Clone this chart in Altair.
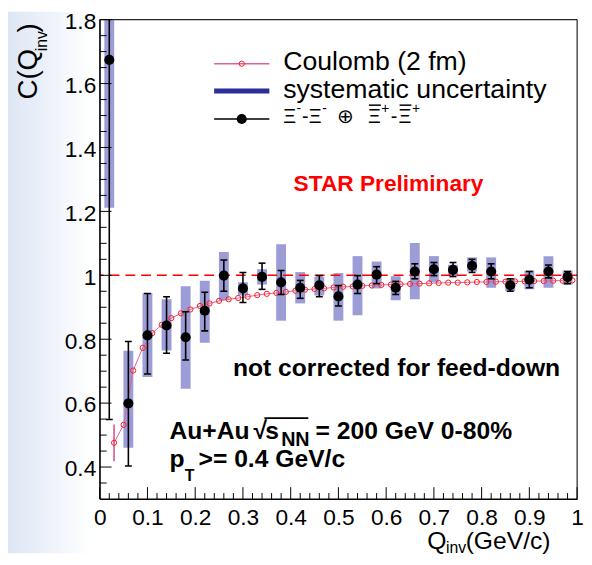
import altair as alt
import pandas as pd

FONT = "Liberation Sans"

# ---- measured correlation function (bin centres, values, errors) ----
q = [0.02, 0.06, 0.10, 0.14, 0.18, 0.22, 0.26, 0.30, 0.34, 0.38, 0.42, 0.46, 0.50,
     0.54, 0.58, 0.62, 0.66, 0.70, 0.74, 0.78, 0.82, 0.86, 0.90, 0.94, 0.98]
c_val = [1.674, 0.599, 0.812, 0.843, 0.806, 0.889, 0.999, 0.959, 0.995, 0.978, 0.961, 0.969, 0.934,
         0.971, 1.002, 0.961, 1.012, 1.019, 1.017, 1.030, 1.012, 0.969, 0.986, 1.012, 0.995]
stat_lo = [0.549, 0.403, 0.691, 0.756, 0.735, 0.826, 0.950, 0.915, 0.956, 0.940, 0.928, 0.933, 0.904,
           0.943, 0.974, 0.940, 0.989, 0.999, 0.996, 1.009, 0.989, 0.950, 0.961, 0.992, 0.974]
stat_hi = [2.800, 0.793, 0.943, 0.933, 0.886, 0.947, 1.048, 1.009, 1.038, 1.015, 0.984, 0.999, 0.968,
           0.999, 1.027, 0.981, 1.036, 1.040, 1.040, 1.050, 1.036, 0.989, 1.012, 1.032, 1.012]
sys_lo = [1.211, 0.460, 0.682, 0.765, 0.645, 0.789, 0.922, 0.937, 0.971, 0.858, 0.912, 0.937, 0.858,
          0.875, 0.959, 0.922, 0.925, 0.978, 0.997, 1.012, 0.961, 0.950, 0.956, 0.961, 0.971]
sys_hi = [2.140, 0.764, 0.945, 0.925, 0.966, 0.983, 1.073, 0.978, 1.019, 1.097, 1.010, 0.995, 1.007,
          1.060, 1.043, 0.997, 1.101, 1.060, 1.033, 1.056, 1.056, 0.990, 1.015, 1.060, 1.015]

# ---- Coulomb (2 fm) curve ----
coul_q = [0.03, 0.05, 0.07, 0.09, 0.11, 0.13, 0.15, 0.17, 0.19, 0.21, 0.23, 0.25, 0.27,
          0.29, 0.31, 0.33, 0.35, 0.37, 0.39, 0.41, 0.43, 0.45, 0.47, 0.49, 0.51, 0.53,
          0.55, 0.57, 0.59, 0.61, 0.63, 0.65, 0.67, 0.69, 0.71, 0.73, 0.75, 0.77, 0.79,
          0.81, 0.83, 0.85, 0.87, 0.89, 0.91, 0.93, 0.95, 0.97, 0.99]
coul_c = [0.476, 0.532, 0.702, 0.773, 0.819, 0.845, 0.866, 0.881, 0.893, 0.904, 0.912, 0.920, 0.925,
          0.929, 0.933, 0.938, 0.942, 0.945, 0.948, 0.952, 0.955, 0.957, 0.959, 0.962, 0.964, 0.965,
          0.967, 0.968, 0.970, 0.971, 0.972, 0.973, 0.974, 0.975, 0.976, 0.977, 0.977, 0.978, 0.979,
          0.979, 0.980, 0.980, 0.981, 0.981, 0.982, 0.982, 0.983, 0.983, 0.984]
coul_err_q = [0.03]
coul_err_lo = [0.418]
coul_err_hi = [0.533]

# ---- axis ticks ----
x_major = [0, 0.1, 0.2, 0.3, 0.4, 0.5, 0.6, 0.7, 0.8, 0.9, 1.0]
x_minor = [0.02, 0.04, 0.06, 0.08, 0.12, 0.14, 0.16, 0.18, 0.22, 0.24, 0.26, 0.28,
           0.32, 0.34, 0.36, 0.38, 0.42, 0.44, 0.46, 0.48, 0.52, 0.54, 0.56, 0.58,
           0.62, 0.64, 0.66, 0.68, 0.72, 0.74, 0.76, 0.78, 0.82, 0.84, 0.86, 0.88,
           0.92, 0.94, 0.96, 0.98]
y_major = [0.4, 0.6, 0.8, 1.0, 1.2, 1.4, 1.6, 1.8]
y_minor = [0.35, 0.45, 0.5, 0.55, 0.65, 0.7, 0.75, 0.85, 0.9, 0.95, 1.05, 1.1, 1.15,
           1.25, 1.3, 1.35, 1.45, 1.5, 1.55, 1.65, 1.7, 1.75]
ref_level = [1.0]

W, H = 484, 486

df = pd.DataFrame({"q": q, "c": c_val, "slo": stat_lo, "shi": stat_hi,
                   "ylo": sys_lo, "yhi": sys_hi})
cdf = pd.DataFrame({"q": coul_q, "c": coul_c})
cedf = pd.DataFrame({"q": coul_err_q, "lo": coul_err_lo, "hi": coul_err_hi})
one = pd.DataFrame({"a": [0]})

XS = alt.Scale(domain=[0, 1], nice=False, zero=False)
YS = alt.Scale(domain=[0.3, 1.8], nice=False, zero=False)

xaxis = alt.Axis(values=x_major, format="~g", ticks=False, tickSize=0, grid=False,
                 title=None, labelFont=FONT, labelFontSize=23, labelColor="black",
                 labelPadding=8, labelFlush=False, labelOverlap=False, labelBound=False,
                 domainColor="black", domainWidth=1, zindex=1)
yaxis = alt.Axis(values=y_major, format="~g", ticks=False, tickSize=0, grid=False,
                 title=None, labelFont=FONT, labelFontSize=23, labelColor="black",
                 labelPadding=4, labelFlush=False, labelOverlap=False, labelBound=False,
                 labelOffset=2, domainColor="black", domainWidth=1, zindex=1)


def X(f):
    return alt.X(f, scale=XS, axis=xaxis)


def Y(f):
    return alt.Y(f, scale=YS, axis=yaxis)


layers = []

# faint slide background at the left edge
layers.append(alt.Chart(one).mark_rect(
    color=alt.Gradient(gradient="linear", x1=0, x2=1, y1=0, y2=0,
                       stops=[alt.GradientStop(offset=0, color="#dde6f4"),
                              alt.GradientStop(offset=1, color="#ffffff")])
).encode(x=alt.value(-93), x2=alt.value(-8), y=alt.value(-8), y2=alt.value(H + 55)))

# systematic uncertainty bands
layers.append(alt.Chart(df).mark_rule(strokeWidth=10, color="#9c9cd6", clip=True).encode(
    x=X("q:Q"), y=Y("ylo:Q"), y2="yhi:Q"))

# dashed reference line at 1
layers.append(alt.Chart(pd.DataFrame({"v": ref_level})).mark_rule(
    color="#ff0000", strokeDash=[10, 6], strokeWidth=1.5).encode(y=Y("v:Q")))

# Coulomb curve
layers.append(alt.Chart(cdf).mark_line(color="#e0609a", strokeWidth=1, clip=True).encode(
    x=X("q:Q"), y=Y("c:Q")))
layers.append(alt.Chart(cedf).mark_rule(color="#d04a8a", strokeWidth=1.5, clip=True).encode(
    x=X("q:Q"), y=Y("lo:Q"), y2="hi:Q"))
layers.append(alt.Chart(cdf).mark_point(shape="circle", filled=False, size=28, color="#ff1a1a",
                                        strokeWidth=1, opacity=1, clip=True).encode(
    x=X("q:Q"), y=Y("c:Q")))

# statistical error bars with caps
layers.append(alt.Chart(df).mark_rule(color="black", strokeWidth=1.6, clip=True).encode(
    x=X("q:Q"), y=Y("slo:Q"), y2="shi:Q"))
for fld in ["slo", "shi"]:
    layers.append(alt.Chart(df).mark_tick(orient="horizontal", size=7, thickness=1.6,
                                          color="black", opacity=1, clip=True).encode(
        x=X("q:Q"), y=Y(f"{fld}:Q")))

# data points
layers.append(alt.Chart(df).mark_circle(size=105, color="black", opacity=1, clip=True).encode(
    x=X("q:Q"), y=Y("c:Q")))


# inside ticks
def yt(vals, length):
    return alt.Chart(pd.DataFrame({"v": vals})).mark_rule(color="black", strokeWidth=1).encode(
        y=Y("v:Q"), x=alt.value(0), x2=alt.value(length))


def xt(vals, length):
    return alt.Chart(pd.DataFrame({"v": vals})).mark_rule(color="black", strokeWidth=1).encode(
        x=X("v:Q"), y=alt.value(H), y2=alt.value(H - length))


layers += [yt(y_major, 12), yt(y_minor, 7), xt(x_major, 12), xt(x_minor, 6)]


def prule(x1, x2, y1, y2=None, color="black", width=1.0):
    enc = dict(x=alt.value(x1), y=alt.value(y1))
    if x2 is not None:
        enc["x2"] = alt.value(x2)
    if y2 is not None:
        enc["y2"] = alt.value(y2)
    return alt.Chart(one).mark_rule(color=color, strokeWidth=width).encode(**enc)


# frame
layers += [prule(0, W, 0), prule(W, None, 0, H), prule(0, W, H), prule(0, None, 0, H)]


# in-plot annotations anchored in data space
def dtext(txt, x, y, size=25, color="black", weight="bold", align="left"):
    return alt.Chart(one).mark_text(font=FONT, fontSize=size, fontWeight=weight, color=color,
                                    align=align, baseline="alphabetic").encode(
        x=alt.XDatum(x, scale=XS, axis=xaxis), y=alt.YDatum(y, scale=YS, axis=yaxis),
        text=alt.value(txt))


layers += [
    dtext("STAR Preliminary", 0.605, 1.263, size=23, color="#ff0000", align="center"),
    dtext("not corrected for feed-down", 0.279, 0.686),
    dtext("Au+Au", 0.146, 0.488),
    dtext("\u221a", 0.322, 0.488),
    dtext("s", 0.347, 0.488),
    dtext("NN", 0.380, 0.467, size=20),
    dtext("= 200 GeV 0-80%", 0.452, 0.488),
    dtext("p", 0.146, 0.399),
    dtext("T", 0.178, 0.356, size=16),
    dtext(">= 0.4 GeV/c", 0.207, 0.399),
]
layers.append(alt.Chart(one).mark_rule(color="black", strokeWidth=1.6).encode(
    x=alt.XDatum(0.345, scale=XS, axis=xaxis), x2=alt.X2Datum(0.437),
    y=alt.YDatum(0.553, scale=YS, axis=yaxis)))


# legend (pixel positions within the plot)
def vtext(txt, x, y, size=27, angle=0, weight="normal"):
    return alt.Chart(one).mark_text(font=FONT, fontSize=size, fontWeight=weight, color="black",
                                    align="left", baseline="alphabetic", angle=angle).encode(
        x=alt.value(x), y=alt.value(y), text=alt.value(txt))


XI = "\u039e"
layers += [
    prule(116, 172, 44.7, color="#e0609a", width=1.5),
    alt.Chart(one).mark_point(shape="circle", filled=False, size=28, color="#ff1a1a",
                              strokeWidth=1, opacity=1).encode(x=alt.value(144), y=alt.value(44.7)),
    vtext("Coulomb (2 fm)", 186, 50.7),
    prule(116, 172, 72.3, color="#2c2c9a", width=5),
    vtext("systematic uncertainty", 186, 79),
    prule(116, 172, 100.7, color="black", width=1.5),
    alt.Chart(one).mark_circle(size=105, color="black", opacity=1).encode(
        x=alt.value(144), y=alt.value(100.7)),
    # Ξ- Ξ-  (+)  anti-Ξ+ anti-Ξ+
    vtext(XI, 186, 104.7, size=20),
    vtext("-", 199.5, 95, size=14),
    vtext("-", 205, 104.7, size=20),
    vtext(XI, 212, 104.7, size=20),
    vtext("-", 225.5, 95, size=14),
    vtext("\u2295", 241, 104.7, size=20),
    vtext(XI, 272, 104.7, size=20),
    prule(273, 285, 86.7, width=1.5),
    vtext("+", 285.5, 95, size=14),
    vtext("-", 295, 104.7, size=20),
    vtext(XI, 303, 104.7, size=20),
    prule(304, 316, 86.7, width=1.5),
    vtext("+", 316.5, 95, size=14),
]

# axis titles with subscripts
layers += [
    vtext("C(Q", -64, 81, size=28, angle=270),
    vtext("inv", -53, 32, size=16, angle=270),
    vtext(")", -64, 13, size=28, angle=270),
    vtext("Q", 332, 537, size=25),
    vtext("inv", 351, 541, size=16),
    vtext("(GeV/c)", 371, 537, size=25),
]

chart = alt.layer(*layers).properties(
    width=W, height=H,
    autosize=alt.AutoSizeParams(type="none"),
    padding={"left": 93, "top": 8, "right": 7, "bottom": 55},
).configure_view(stroke="black", strokeWidth=1).configure(background="white")

chart.save("out.html", embed_options={"renderer": "svg", "actions": False})
